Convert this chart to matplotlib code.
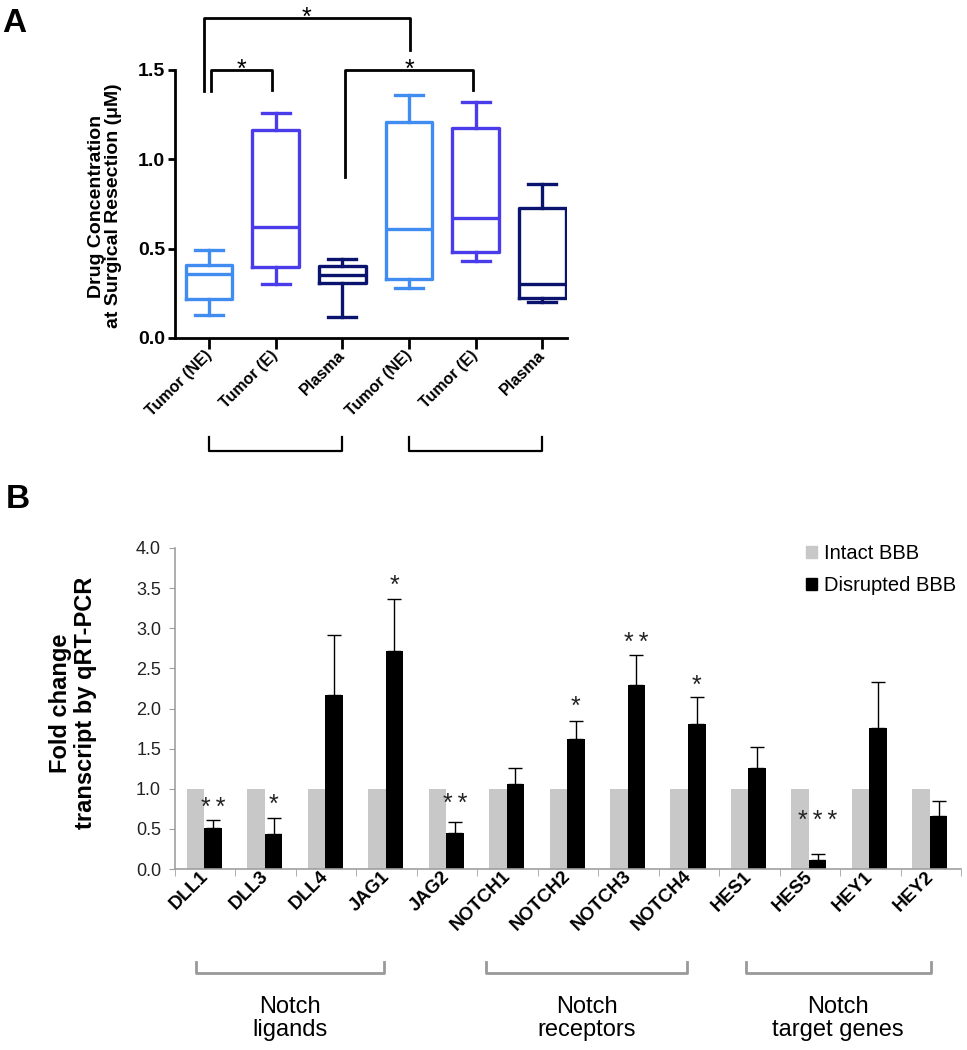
import matplotlib
matplotlib.use('Agg')
import matplotlib.pyplot as plt
import matplotlib.transforms as mtransforms
from matplotlib.patches import Patch

plt.rcParams['font.family'] = ['Liberation Sans', 'DejaVu Sans']

# ---------------- panel A data ----------------
a_labels = ['Tumor (NE)', 'Tumor (E)', 'Plasma', 'Tumor (NE)', 'Tumor (E)', 'Plasma']
a_whislo = [0.13, 0.30, 0.12, 0.28, 0.43, 0.20]
a_q1 = [0.22, 0.40, 0.31, 0.33, 0.48, 0.225]
a_med = [0.36, 0.62, 0.355, 0.61, 0.67, 0.30]
a_q3 = [0.41, 1.165, 0.405, 1.21, 1.175, 0.725]
a_whishi = [0.49, 1.26, 0.44, 1.36, 1.32, 0.86]
a_colors = ['#408cf0', '#4b3ceb', '#0a146e', '#408cf0', '#4b3ceb', '#0a146e']

# significance brackets
a_sig_left = [-0.08, 0.03, 2.04]
a_sig_right = [3.01, 0.95, 3.96]
a_sig_lo_left = [1.38, 1.38, 0.90]
a_sig_lo_right = [1.61, 1.39, 1.39]
a_sig_top = [1.79, 1.50, 1.50]
a_sig_text = ['*', '*', '*']

a_group_left = [0, 3]
a_group_right = [2, 5]

# ---------------- panel B data ----------------
genes = ['DLL1', 'DLL3', 'DLL4', 'JAG1', 'JAG2', 'NOTCH1', 'NOTCH2', 'NOTCH3',
         'NOTCH4', 'HES1', 'HES5', 'HEY1', 'HEY2']
intact = [1.0] * 13
disrupted = [0.507, 0.437, 2.17, 2.72, 0.445, 1.06, 1.62, 2.29, 1.81, 1.256, 0.116, 1.76, 0.657]
disrupted_err = [0.10, 0.20, 0.74, 0.64, 0.14, 0.20, 0.22, 0.38, 0.33, 0.27, 0.065, 0.57, 0.19]
sig = ['**', '*', '', '*', '**', '', '*', '**', '*', '', '***', '', '']
sig_y = [0.86, 0.89, 0, 3.62, 0.90, 0, 2.12, 2.91, 2.38, 0, 0.69, 0, 0]

groups = ['Notch\nligands', 'Notch\nreceptors', 'Notch\ntarget genes']
group_left = [-0.15, 4.64, 8.94]
group_right = [2.95, 7.97, 12.0]

W, H = 967, 1050
fig = plt.figure(figsize=(W / 100, H / 100), dpi=100)


def px_box(left, top, right, bottom):
    return [left / W, 1 - bottom / H, (right - left) / W, (bottom - top) / H]


# ---------------- panel A ----------------
axA = fig.add_axes(px_box(174.6, 70, 567, 338))
stats = []
for i in range(6):
    stats.append(dict(med=a_med[i], q1=a_q1[i], q3=a_q3[i],
                      whislo=a_whislo[i], whishi=a_whishi[i], fliers=[]))
bp = axA.bxp(stats, positions=range(6), widths=0.7, capwidths=0.42,
             showfliers=False, patch_artist=False)
for i in range(6):
    c = a_colors[i]
    bp['boxes'][i].set(color=c, linewidth=2.4)
    bp['medians'][i].set(color=c, linewidth=2.4)
    for j in (2 * i, 2 * i + 1):
        bp['whiskers'][j].set(color=c, linewidth=2.4)
        bp['caps'][j].set(color=c, linewidth=2.4)

axA.set_xlim(-0.517, 5.37)
axA.set_ylim(0, 1.5)
axA.set_yticks([0, 0.5, 1.0, 1.5])
axA.set_yticklabels(['0.0', '0.5', '1.0', '1.5'], fontsize=14, fontweight='bold')
axA.set_xticks(range(6))
axA.set_xticklabels(a_labels, fontsize=11.5, fontweight='bold', rotation=45,
                    ha='right', va='center', rotation_mode='anchor')
off = mtransforms.ScaledTranslation(5 / 100, -4 / 100, fig.dpi_scale_trans)
for lab in axA.get_xticklabels():
    lab.set_transform(lab.get_transform() + off)
for s in ['top', 'right']:
    axA.spines[s].set_visible(False)
for s in ['left', 'bottom']:
    axA.spines[s].set_linewidth(2)
axA.tick_params(axis='y', length=5, width=2, pad=2)
axA.tick_params(axis='x', length=8, width=2, pad=3)

for i in range(3):
    xl, xr = a_sig_left[i], a_sig_right[i]
    axA.plot([xl, xl, xr, xr], [a_sig_lo_left[i], a_sig_top[i], a_sig_top[i], a_sig_lo_right[i]],
             color='black', lw=2, clip_on=False)
    axA.annotate(a_sig_text[i], ((xl + xr) / 2, a_sig_top[i]), xytext=(0, -4.7),
                 textcoords='offset points', ha='center', va='baseline', fontsize=18,
                 annotation_clip=False)

for i in range(2):
    xl, xr = a_group_left[i], a_group_right[i]
    axA.plot([xl, xl, xr, xr], [-0.554, -0.634, -0.634, -0.554], color='black',
             lw=1.6, clip_on=False)

fig.text(105 / W, 1 - 206 / H, 'Drug Concentration\nat Surgical Resection (\u03bcM)',
         rotation=90, ha='center', va='center', multialignment='center',
         fontsize=14, fontweight='bold', linespacing=1.05)
fig.text(2 / W, 1 - 8 / H, 'A', fontsize=24, fontweight='bold', va='top', ha='left')

# ---------------- panel B ----------------
axB = fig.add_axes(px_box(175, 548, 961, 869))
x = list(range(len(genes)))
axB.bar([i - 0.16 for i in x], intact, width=0.29, color='#c8c8c8', label='Intact BBB')
axB.bar([i + 0.13 for i in x], disrupted, width=0.29, color='black', label='Disrupted BBB')
axB.errorbar([i + 0.13 for i in x], disrupted, yerr=[[0] * len(x), disrupted_err],
             fmt='none', ecolor='black', elinewidth=1, capsize=5, capthick=1)
for i in x:
    if sig[i]:
        axB.annotate('\u2009'.join(sig[i]), (i + 0.13, sig_y[i]), xytext=(0, -10.6),
                     textcoords='offset points', ha='center', va='baseline', fontsize=18,
                     color='#222222')

axB.set_xlim(-0.5, 12.5)
axB.set_ylim(0, 4)
axB.set_yticks([0, 0.5, 1, 1.5, 2, 2.5, 3, 3.5, 4])
axB.set_yticklabels(['0.0', '0.5', '1.0', '1.5', '2.0', '2.5', '3.0', '3.5', '4.0'],
                    fontsize=13, color='#222222')
axB.set_xticks(x)
axB.set_xticklabels(genes, fontsize=13.5, fontweight='bold', rotation=45,
                    ha='right', va='center', rotation_mode='anchor')
offB = mtransforms.ScaledTranslation(5 / 100, -6 / 100, fig.dpi_scale_trans)
for lab in axB.get_xticklabels():
    lab.set_transform(lab.get_transform() + offB)
axB.set_xticks([i - 0.5 for i in range(14)], minor=True)
axB.tick_params(axis='x', which='major', length=0)
axB.tick_params(axis='x', which='minor', length=5, color='#a0a0a0')
axB.tick_params(axis='y', length=4, color='#a0a0a0', pad=6)
for s in ['top', 'right']:
    axB.spines[s].set_visible(False)
for s in ['left', 'bottom']:
    axB.spines[s].set_color('#a0a0a0')
    axB.spines[s].set_linewidth(1.2)

for i in range(3):
    xl, xr = group_left[i], group_right[i]
    axB.plot([xl, xl, xr, xr], [-1.16, -1.297, -1.297, -1.16], color='#999999',
             lw=2, clip_on=False)
    axB.text((xl + xr) / 2, -1.58, groups[i], ha='center', va='top', fontsize=17,
             linespacing=1.1)

handles = [Patch(color='#c8c8c8', label='Intact BBB'), Patch(color='black', label='Disrupted BBB')]
fig.legend(handles=handles, loc='upper left', bbox_to_anchor=(806 / W, 1 - 544 / H),
           frameon=False, fontsize=14.5, handlelength=0.55, handleheight=0.55,
           handletextpad=0.35, labelspacing=0.65, borderpad=0, borderaxespad=0)

fig.text(73 / W, 1 - 703 / H, 'Fold change\ntranscript by qRT-PCR', rotation=90,
         ha='center', va='center', multialignment='center', fontsize=17,
         fontweight='bold', linespacing=1.15)
fig.text(6 / W, 1 - 484 / H, 'B', fontsize=24, fontweight='bold', va='top', ha='left')

fig.savefig('out.png', dpi=100)
